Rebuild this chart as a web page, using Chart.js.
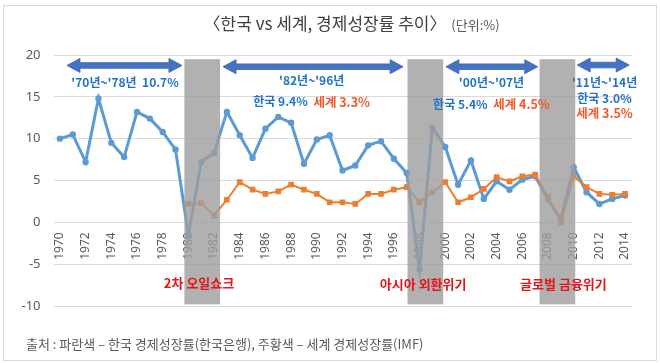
<!DOCTYPE html>
<html><head><meta charset="utf-8">
<script src="https://cdn.jsdelivr.net/npm/chart.js@4.4.1/dist/chart.umd.min.js"></script>
<style>html,body{margin:0;padding:0;background:#fff}#wrap{width:660px;height:363px;position:relative}</style>
</head><body><div id="wrap"><canvas id="c" width="660" height="363"></canvas></div>
<script>
const years = ['1970','1971','1972','1973','1974','1975','1976','1977','1978','1979','1980','1981','1982','1983','1984','1985','1986','1987','1988','1989','1990','1991','1992','1993','1994','1995','1996','1997','1998','1999','2000','2001','2002','2003','2004','2005','2006','2007','2008','2009','2010','2011','2012','2013','2014'];
const korea = [10.0,10.5,7.2,14.8,9.5,7.8,13.2,12.4,10.8,8.7,-1.5,7.2,8.3,13.2,10.4,7.7,11.2,12.6,11.9,7.0,9.9,10.4,6.2,6.8,9.2,9.7,7.6,5.9,-5.6,11.3,9.0,4.5,7.4,2.8,4.9,3.9,5.1,5.5,2.7,0.4,6.6,3.6,2.2,2.8,3.2];
const world = [null,null,null,null,null,null,null,null,null,null,2.2,2.3,0.8,2.7,4.8,3.9,3.4,3.7,4.5,3.9,3.4,2.4,2.4,2.2,3.4,3.4,3.9,4.2,2.4,3.6,4.8,2.4,3.0,4.0,5.4,4.9,5.5,5.7,3.1,0.0,5.5,4.2,3.4,3.3,3.4];
const yMin = -10, yMax = 20, yStep = 5;
const crisisBands = [[9.69,12.47],[27.06,29.84],[37.34,40.12]];
const crisisNames = ['2차 오일쇼크','아시아 외환위기','글로벌 금융위기'];
const periodArrows = [[0.55,9.5,18.75],[12.7,26.72,18.6],[30.05,37.2,18.6],[40.27,44.32,18.8]];

const FONT = '"Noto Sans CJK KR","Noto Sans",sans-serif';
const BLUE_T = '#2373C4', ORANGE_T = '#F2582A', RED_T = '#E5141C';

function drawArrow(ctx, x1, x2, y){
  const hl = 13, hh = 7, bh = 2.8;
  ctx.beginPath();
  ctx.moveTo(x1, y);
  ctx.lineTo(x1+hl, y-hh);
  ctx.lineTo(x1+hl, y-bh);
  ctx.lineTo(x2-hl, y-bh);
  ctx.lineTo(x2-hl, y-hh);
  ctx.lineTo(x2, y);
  ctx.lineTo(x2-hl, y+hh);
  ctx.lineTo(x2-hl, y+bh);
  ctx.lineTo(x1+hl, y+bh);
  ctx.lineTo(x1+hl, y+hh);
  ctx.closePath();
  ctx.fillStyle = '#4472C4';
  ctx.fill();
  ctx.strokeStyle = '#3A62AE';
  ctx.lineWidth = 0.8;
  ctx.stroke();
}
function segText(ctx, segs, cx, y){
  let total = 0;
  segs.forEach(s=>{ctx.font=s.f; s.w=ctx.measureText(s.t).width; total+=s.w;});
  let x = cx - total/2;
  ctx.textAlign='left'; ctx.textBaseline='middle';
  segs.forEach(s=>{ctx.font=s.f; ctx.fillStyle=s.c; ctx.fillText(s.t,x,y); x+=s.w;});
}

const decor = {
  id:'decor',
  beforeDraw(chart){
    const ctx = chart.ctx;
    ctx.save();
    ctx.fillStyle='#fff'; ctx.fillRect(0,0,660,363);
    ctx.strokeStyle='#D9D9D9'; ctx.lineWidth=1;
    ctx.strokeRect(3.5,5.5,653,355);
    // title
    ctx.textBaseline='middle'; ctx.textAlign='left';
    const t1='〈한국 vs 세계, 경제성장률 추이〉', t2=' (단위:%)';
    ctx.font='17px '+FONT; const w1=ctx.measureText(t1).width;
    ctx.font='13px '+FONT; const w2=ctx.measureText(t2).width;
    const x0 = 325 - w1/2;
    ctx.font='17px '+FONT; ctx.fillStyle='#404040'; ctx.fillText(t1,x0,24);
    ctx.font='13px '+FONT; ctx.fillStyle='#595959'; ctx.fillText(t2,x0+w1+2,25);
    // footer
    ctx.font='13px '+FONT; ctx.fillStyle='#595959';
    ctx.fillText('출처 : 파란색 – 한국 경제성장률(한국은행), 주황색 – 세계 경제성장률(IMF)',26,344);
    ctx.restore();
  },
  afterDatasetsDraw(chart){
    const ctx = chart.ctx, xs = chart.scales.x, ys = chart.scales.y;
    ctx.save();
    crisisBands.forEach(b=>{
      const xa = xs.getPixelForValue(b[0]), xb = xs.getPixelForValue(b[1]);
      const ya = ys.getPixelForValue(19.5), yb = ys.getPixelForValue(-9.8);
      ctx.fillStyle='rgba(158,158,158,0.8)';
      ctx.fillRect(xa,ya,xb-xa,yb-ya);
    });
    periodArrows.forEach(a=>{
      drawArrow(ctx, xs.getPixelForValue(a[0]), xs.getPixelForValue(a[1]), ys.getPixelForValue(a[2]));
    });
    const B='bold 12px '+FONT, B2='bold 12.5px '+FONT, R='bold 13px '+FONT;
    const X = v=>xs.getPixelForValue(v), Y = v=>ys.getPixelForValue(v);
    segText(ctx,[{t:"'70년~'78년  10.7%",f:B,c:BLUE_T}],X(5.07),Y(16.7));
    segText(ctx,[{t:"'82년~'96년",f:B,c:BLUE_T}],X(19.6),Y(16.9));
    segText(ctx,[{t:"한국 9.4%",f:B,c:BLUE_T},{t:"  세계 3.3%",f:B2,c:ORANGE_T}],X(19.6),Y(14.4));
    segText(ctx,[{t:"'00년~'07년",f:B,c:BLUE_T}],X(33.6),Y(16.7));
    segText(ctx,[{t:"한국 5.4%",f:B,c:BLUE_T},{t:"  세계 4.5%",f:B2,c:ORANGE_T}],X(33.6),Y(14.1));
    segText(ctx,[{t:"'11년~'14년",f:B,c:BLUE_T}],X(42.4),Y(16.75));
    segText(ctx,[{t:"한국 3.0%",f:B,c:BLUE_T}],X(42.4),Y(14.75));
    segText(ctx,[{t:"세계 3.5%",f:B2,c:ORANGE_T}],X(42.4),Y(13.05));
    const redPos=[[10.83,-7.2],[28.28,-7.43],[39.2,-7.43]];
    crisisNames.forEach((n,i)=>segText(ctx,[{t:n,f:R,c:RED_T}],X(redPos[i][0]),Y(redPos[i][1])));
    ctx.restore();
  }
};

new Chart(document.getElementById('c'),{
  type:'line',
  data:{labels:years,datasets:[
    {label:'세계',data:world,borderColor:'#ED7D31',backgroundColor:'#ED7D31',borderWidth:2,pointStyle:'rect',pointRadius:4,pointBorderWidth:0,tension:0,order:1,spanGaps:false},
    {label:'한국',data:korea,borderColor:'#5B9BD5',backgroundColor:'#5B9BD5',borderWidth:3,pointStyle:'circle',pointRadius:3.2,pointBorderWidth:0,tension:0,order:2}
  ]},
  options:{
    responsive:false,animation:false,devicePixelRatio:1,
    layout:{padding:{left:0,top:55,right:28.5,bottom:57}},
    plugins:{legend:{display:false},tooltip:{enabled:false},title:{display:false}},
    scales:{
      x:{position:{y:0},offset:true,grid:{display:false,drawTicks:false,offset:true},border:{display:false},
         ticks:{autoSkip:false,minRotation:90,maxRotation:90,padding:10,color:'#595959',font:{size:12,family:'"Noto Sans",sans-serif'},
           callback:function(v,i){return i%2===0?years[i]:'';}}},
      y:{min:yMin,max:yMax,grid:{color:'#D9D9D9',drawTicks:false},border:{display:false},
         afterFit:function(s){s.width=53.5;},
         ticks:{stepSize:yStep,padding:13,color:'#595959',font:{size:13,family:'"Noto Sans",sans-serif'}}}
    }
  },
  plugins:[decor]
});
</script></body></html>
